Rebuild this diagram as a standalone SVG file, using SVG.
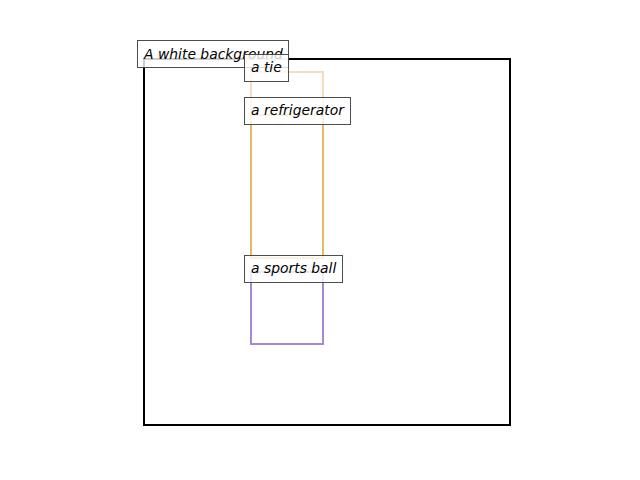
<svg xmlns="http://www.w3.org/2000/svg" width="640" height="480" viewBox="0 0 640 480">
  <style>
    .box { fill: none; stroke-width: 2; stroke-linejoin: miter; }
    .lbl rect { fill: #ffffff; fill-opacity: 0.8; stroke: #3a3a3a; stroke-opacity: 0.9; stroke-width: 1; }
    .lbl text { font-family: "DejaVu Sans", sans-serif; font-style: italic; font-size: 13.9px; fill: #000; }
  </style>
  <rect width="640" height="480" fill="#ffffff"/>

  <!-- bounding boxes -->
  <g id="background">
    <rect class="box" x="144" y="59" width="366" height="366" stroke="#000000"/>
  </g>
  <g id="tie">
    <rect class="box" x="251" y="72" width="72" height="186" stroke="#f5dcbc"/>
  </g>
  <g id="refrigerator">
    <rect class="box" x="251" y="115" width="72" height="143" stroke="#e8b95e"/>
  </g>
  <g id="sports-ball">
    <rect class="box" x="251" y="272" width="72" height="72" stroke="#a48ad6"/>
  </g>

  <!-- captions -->
  <g id="label-background" class="lbl">
    <rect x="137.5" y="40.5" width="151" height="27"/>
    <text x="144" y="59">A white background</text>
  </g>
  <g id="label-tie" class="lbl">
    <rect x="244.5" y="54.5" width="44" height="27"/>
    <text x="251" y="72">a tie</text>
  </g>
  <g id="label-refrigerator" class="lbl">
    <rect x="244.5" y="97.5" width="106" height="27"/>
    <text x="251" y="115">a refrigerator</text>
  </g>
  <g id="label-sports-ball" class="lbl">
    <rect x="244.5" y="255.5" width="98" height="27"/>
    <text x="251" y="273">a sports ball</text>
  </g>
</svg>
